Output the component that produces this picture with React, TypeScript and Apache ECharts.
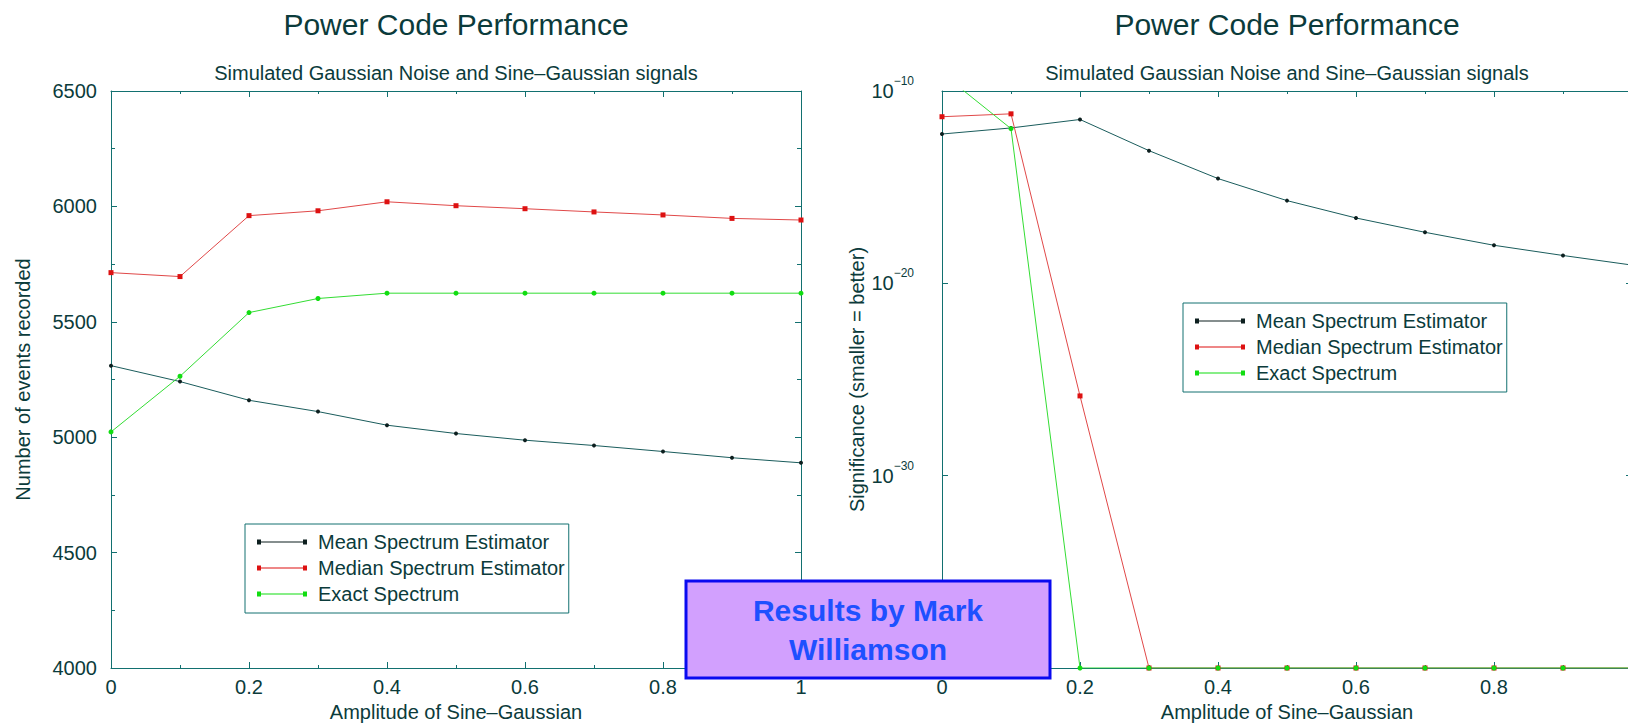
import React, { useEffect, useRef } from "react";
import * as echarts from "echarts";

// ---------- data ----------
const amplitudes = [0, 0.1, 0.2, 0.3, 0.4, 0.5, 0.6, 0.7, 0.8, 0.9, 1.0];
const seriesNames = ["Mean Spectrum Estimator", "Median Spectrum Estimator", "Exact Spectrum"];

// left panel: number of events recorded
const eventsMean = [5310, 5241, 5160, 5111, 5052, 5016, 4987, 4964, 4938, 4911, 4889];
const eventsMedian = [5713, 5696, 5960, 5981, 6020, 6003, 5990, 5976, 5963, 5948, 5941];
const eventsExact = [5023, 5264, 5540, 5601, 5624, 5624, 5624, 5624, 5624, 5624, 5624];

// right panel: significance (smaller = better), log scale
const sigMean = [5.8e-13, 1.2e-12, 3.3e-12, 7.9e-14, 2.8e-15, 2.0e-16, 2.5e-17, 4.5e-18, 9.5e-19, 2.8e-19, 8.9e-20];
const sigMedian = [4.6e-12, 6.5e-12, 1.4e-26, 1e-40, 1e-40, 1e-40, 1e-40, 1e-40, 1e-40, 1e-40, 1e-40];
const sigExact = [8.3e-10, 1.1e-12, 1e-40, 1e-40, 1e-40, 1e-40, 1e-40, 1e-40, 1e-40, 1e-40, 1e-40];

// axis ranges
const ampRange = [0, 1, 0.2];
const eventsRange = [4000, 6500, 500];
const sigExpRange = [-40, -10, 10];
// tick labels hidden in the reference (covered by the note box / beyond the page edge)
const hiddenSigExpLabels = [-40];
const hiddenRightAmpLabels = [1];

const titleText = "Power Code Performance";
const subtitleText = "Simulated Gaussian Noise and Sine\u2013Gaussian signals";
const xName = "Amplitude of Sine\u2013Gaussian";
const yNameLeft = "Number of events recorded";
const yNameRight = "Significance (smaller = better)";
const noteText = "Results by Mark\nWilliamson";

// ---------- styles ----------
const FONT = '"Liberation Sans", Arial, Helvetica, sans-serif';
const TEXT = "#0b3b3b";
const AXIS = "#127070";
const COLORS = {
  meanLine: "#1a5c5c",
  meanPoint: "#0d1f1f",
  medianLine: "#e04848",
  medianPoint: "#dd1111",
  exactLine: "#33dd33",
  exactPoint: "#11dd11",
};

const LEFT_GRID = { left: 111, top: 91, width: 690, height: 578 };
const RIGHT_GRID = { left: 942, top: 91, width: 690, height: 578 };

function xAxes(gridIndex: number, hidden: number[]) {
  const base = {
    type: "value",
    gridIndex,
    min: ampRange[0],
    max: ampRange[1],
    interval: ampRange[2],
    splitLine: { show: false },
    axisLine: { show: true, onZero: false, lineStyle: { color: AXIS, width: 1 } },
    axisTick: { show: true, inside: true, length: 6, lineStyle: { color: AXIS } },
    minorTick: { show: true, splitNumber: 2, length: 3, lineStyle: { color: AXIS } },
  };
  return [
    {
      ...base,
      position: "bottom",
      axisLabel: {
        margin: 9,
        fontSize: 20,
        lineHeight: 20,
        color: TEXT,
        fontFamily: FONT,
        formatter: (v: number) => (hidden.some((h) => Math.abs(h - v) < 1e-9) ? "" : String(+v.toFixed(1))),
      },
      name: xName,
      nameLocation: "middle",
      nameGap: 34,
      nameTextStyle: { fontSize: 20, lineHeight: 20, color: TEXT, fontFamily: FONT },
    },
    { ...base, position: "top", axisLabel: { show: false } },
  ];
}

export default function App() {
  const ref = useRef<HTMLDivElement>(null);

  useEffect(() => {
    if (!ref.current) return;
    const chart = echarts.init(ref.current, undefined, { renderer: "svg" });

    const eventsY = {
      type: "value",
      gridIndex: 0,
      min: eventsRange[0],
      max: eventsRange[1],
      interval: eventsRange[2],
      splitLine: { show: false },
      axisLine: { show: true, onZero: false, lineStyle: { color: AXIS, width: 1 } },
      axisTick: { show: true, inside: true, length: 6, lineStyle: { color: AXIS } },
      minorTick: { show: true, splitNumber: 2, length: 4, lineStyle: { color: AXIS } },
    };
    const sigY = {
      type: "value",
      gridIndex: 1,
      min: sigExpRange[0],
      max: sigExpRange[1],
      interval: sigExpRange[2],
      splitLine: { show: false },
      axisLine: { show: true, onZero: false, lineStyle: { color: AXIS, width: 1 } },
      axisTick: { show: true, inside: true, length: 6, lineStyle: { color: AXIS } },
    };

    const mk = (
      name: string,
      xi: number,
      yi: number,
      ys: number[],
      line: string,
      point: string,
      symbol: string,
      size: number
    ) => ({
      name,
      type: "line",
      xAxisIndex: xi,
      yAxisIndex: yi,
      data: amplitudes.map((a, i) => [a, ys[i]]),
      symbol,
      symbolSize: size,
      showSymbol: true,
      clip: true,
      lineStyle: { color: line, width: 1 },
      itemStyle: { color: point, borderWidth: 0 },
      emphasis: { disabled: true },
    });

    const log = (arr: number[]) => arr.map((v) => Math.log10(v));

    const legendBase = {
      orient: "vertical",
      padding: [8, 4, 9, 12],
      itemGap: 6,
      itemWidth: 50,
      itemHeight: 5,
      icon: "path://M0,0h4v5h-4zM46,0h4v5h-4zM0,2h50v1h-50z",
      symbolKeepAspect: false,
      borderColor: AXIS,
      borderWidth: 1,
      borderRadius: 0,
      backgroundColor: "#ffffff",
      selectedMode: false,
      itemStyle: { borderWidth: 0 },
      textStyle: { fontSize: 20, lineHeight: 20, color: TEXT, fontFamily: FONT, padding: [0, 0, 0, 6] },
      data: seriesNames,
    };

    const titleStyle = { fontSize: 30, lineHeight: 30, fontWeight: "normal", color: TEXT, fontFamily: FONT };
    const subStyle = { fontSize: 20, lineHeight: 20, fontWeight: "normal", color: TEXT, fontFamily: FONT };
    const cxL = LEFT_GRID.left + LEFT_GRID.width / 2;
    const cxR = RIGHT_GRID.left + RIGHT_GRID.width / 2;

    const option: any = {
      animation: false,
      backgroundColor: "#ffffff",
      textStyle: { fontFamily: FONT },
      title: [
        { text: titleText, left: cxL, top: 9, textAlign: "center", padding: 0, textStyle: titleStyle },
        { text: subtitleText, left: cxL, top: 63, textAlign: "center", padding: 0, textStyle: subStyle },
        { text: titleText, left: cxR, top: 9, textAlign: "center", padding: 0, textStyle: titleStyle },
        { text: subtitleText, left: cxR, top: 63, textAlign: "center", padding: 0, textStyle: subStyle },
      ],
      grid: [
        { ...LEFT_GRID, containLabel: false },
        { ...RIGHT_GRID, containLabel: false },
      ],
      xAxis: [...xAxes(0, []), ...xAxes(1, hiddenRightAmpLabels)],
      yAxis: [
        {
          ...eventsY,
          position: "left",
          axisLabel: {
            margin: 14,
            fontSize: 20,
            color: TEXT,
            fontFamily: FONT,
            formatter: (v: number) => String(v),
          },
          name: yNameLeft,
          nameLocation: "middle",
          nameGap: 78,
          nameTextStyle: { fontSize: 20, lineHeight: 20, color: TEXT, fontFamily: FONT },
        },
        { ...eventsY, position: "right", axisLabel: { show: false } },
        {
          ...sigY,
          position: "left",
          axisLabel: {
            margin: 28,
            color: TEXT,
            fontFamily: FONT,
            formatter: (v: number) =>
              hiddenSigExpLabels.indexOf(v) >= 0 ? "" : `{b|10}{s|${v < 0 ? "\u2212" : ""}${Math.abs(v)}}`,
            rich: {
              b: { fontSize: 20, lineHeight: 32, color: TEXT, fontFamily: FONT },
              s: { fontSize: 12, lineHeight: 12, verticalAlign: "top", color: TEXT, fontFamily: FONT },
            },
          },
          name: yNameRight,
          nameLocation: "middle",
          nameGap: 75,
          nameTextStyle: { fontSize: 20, lineHeight: 20, color: TEXT, fontFamily: FONT },
        },
        { ...sigY, position: "right", axisLabel: { show: false } },
      ],
      legend: [
        { ...legendBase, left: 245, top: 524 },
        { ...legendBase, left: 1183, top: 303 },
      ],
      series: [
        mk(seriesNames[0], 0, 0, eventsMean, COLORS.meanLine, COLORS.meanPoint, "circle", 4),
        mk(seriesNames[1], 0, 0, eventsMedian, COLORS.medianLine, COLORS.medianPoint, "rect", 5),
        mk(seriesNames[2], 0, 0, eventsExact, COLORS.exactLine, COLORS.exactPoint, "circle", 5),
        mk(seriesNames[0], 2, 2, log(sigMean), COLORS.meanLine, COLORS.meanPoint, "circle", 4),
        mk(seriesNames[1], 2, 2, log(sigMedian), COLORS.medianLine, COLORS.medianPoint, "rect", 5),
        mk(seriesNames[2], 2, 2, log(sigExact), COLORS.exactLine, COLORS.exactPoint, "circle", 5),
      ],
      graphic: [
        {
          type: "rect",
          z: 100,
          shape: { x: 686, y: 581, width: 364, height: 97 },
          style: { fill: "#d2a0fe", stroke: "#0a0af0", lineWidth: 3 },
        },
        {
          type: "text",
          z: 101,
          x: 868,
          y: 630,
          style: {
            text: noteText,
            fontSize: 30,
            fontWeight: "bold",
            fontFamily: FONT,
            lineHeight: 39,
            fill: "#1e50ff",
            align: "center",
            verticalAlign: "middle",
          },
        },
      ],
    };

    chart.setOption(option);
    return () => chart.dispose();
  }, []);

  return (
    <div
      style={{
        position: "fixed",
        left: 0,
        top: 0,
        width: 1628,
        height: 727,
        overflow: "hidden",
        background: "#ffffff",
      }}
    >
      <div ref={ref} style={{ width: 1660, height: 727 }} />
    </div>
  );
}
